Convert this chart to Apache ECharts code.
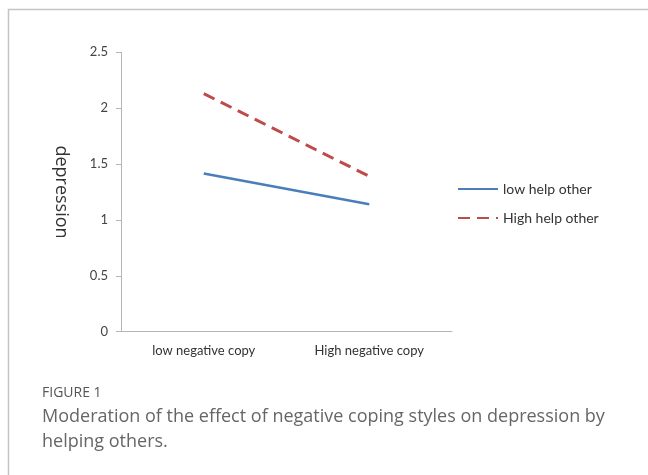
<!DOCTYPE html>
<html>
<head>
<meta charset="utf-8">
<script src="https://cdn.jsdelivr.net/npm/echarts@6/dist/echarts.min.js"></script>
<style>
    html, body { margin: 0; padding: 0; background: #fff; }
    #chart { width: 648px; height: 475px; }
</style>
</head>
<body>
<div id="chart"></div>
<script>
    var categories = ['low negative copy', 'High negative copy'];
    var lowHelp = [1.415, 1.14];
    var highHelp = [2.13, 1.39];
    var yTicks = { min: 0, max: 2.5, interval: 0.5 };

    var myChart = echarts.init(document.getElementById('chart'));
    var option = {
        animation: false,
        grid: {
            left: 121,
            right: 196,
            top: 52.3,
            bottom: 143.3
        },
        graphic: [
            {
                type: 'rect',
                shape: { x: 8.5, y: 9.5, width: 700, height: 520 },
                style: { fill: 'none', stroke: '#c4c4c4', lineWidth: 1.5 }
            },
            {
                type: 'text',
                left: 42,
                top: 386,
                style: { text: 'FIGURE 1', fill: '#555', font: '500 14px "Open Sans"' }
            },
            {
                type: 'text',
                left: 42,
                top: 405,
                style: {
                    text: 'Moderation of the effect of negative coping styles on depression by\nhelping others.',
                    fill: '#666',
                    font: '18px "Open Sans"',
                    lineHeight: 24.5
                }
            }
        ],
        legend: {
            orient: 'vertical',
            left: 452,
            top: 177,
            itemWidth: 40,
            itemHeight: 14,
            itemGap: 15,
            itemStyle: { opacity: 0 },
            textStyle: { color: '#333', fontSize: 14, fontFamily: 'Lato' },
            data: ['low help other', 'High help other']
        },
        xAxis: {
            type: 'category',
            data: categories,
            boundaryGap: true,
            axisLine: { lineStyle: { color: '#b5b5b5' } },
            axisTick: { alignWithLabel: false, length: 5, lineStyle: { color: '#b5b5b5' } },
            axisLabel: { color: '#333', fontSize: 13, fontFamily: 'Lato', margin: 13 }
        },
        yAxis: {
            type: 'value',
            min: yTicks.min,
            max: yTicks.max,
            interval: yTicks.interval,
            name: 'depression',
            nameLocation: 'middle',
            nameRotate: -90,
            nameGap: 51,
            nameTextStyle: { color: '#333', fontSize: 18, fontFamily: 'Open Sans' },
            axisLine: { show: true, lineStyle: { color: '#b5b5b5' } },
            axisTick: { show: true, length: 5, lineStyle: { color: '#b5b5b5' } },
            splitLine: { show: false },
            axisLabel: { color: '#444', fontSize: 13, fontFamily: 'Lato', margin: 13 }
        },
        series: [
            {
                name: 'low help other',
                type: 'line',
                data: lowHelp,
                symbol: 'none',
                color: '#4a7ebb',
                lineStyle: { color: '#4a7ebb', width: 2.5 }
            },
            {
                name: 'High help other',
                type: 'line',
                data: highHelp,
                symbol: 'none',
                color: '#be4b48',
                lineStyle: { color: '#be4b48', width: 3, type: [12, 7] }
            }
        ]
    };
    myChart.setOption(option);
</script>
</body>
</html>
